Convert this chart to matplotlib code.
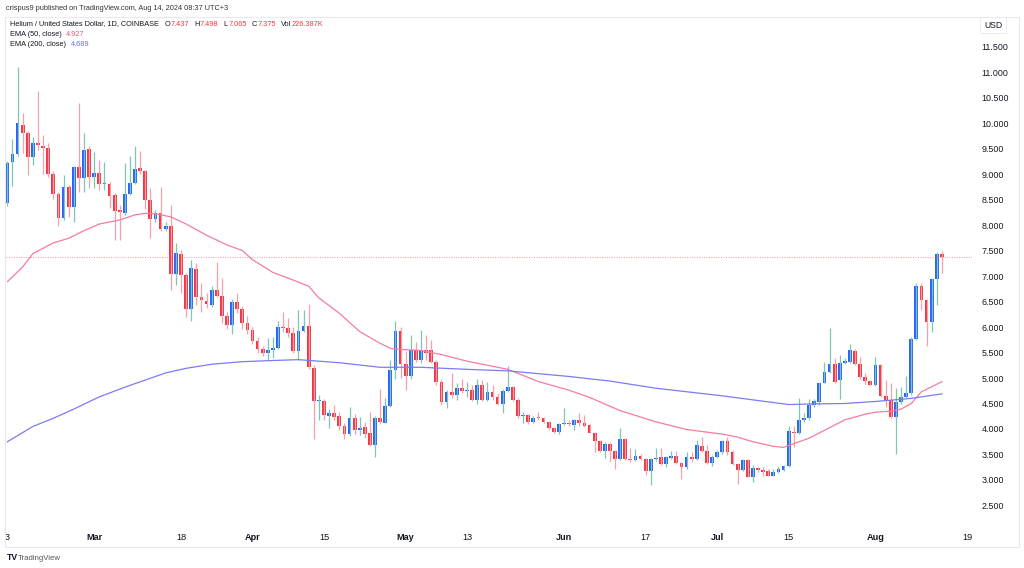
import matplotlib
matplotlib.use('Agg')
import matplotlib.pyplot as plt
from matplotlib.patches import Rectangle
import numpy as np
import pandas as pd

plt.rcParams['font.family'] = ['Liberation Sans', 'DejaVu Sans']

# daily HNT/USD candles, 13 Feb - 14 Aug 2024
start_date = '2024-02-13'
opens = [8.44, 9.24, 9.39, 9.96, 9.80, 9.34, 9.61, 9.55, 9.52, 9.01,
         8.61, 8.14, 8.75, 8.36, 9.13, 8.92, 9.50, 8.95, 9.03, 8.80,
         8.80, 8.58, 8.29, 8.24, 8.61, 8.82, 9.11, 9.05, 8.50, 8.11,
         8.24, 7.93, 7.98, 7.04, 7.43, 7.02, 6.35, 7.13, 6.59, 6.52,
         6.43, 6.73, 6.61, 6.22, 6.04, 6.50, 6.35, 6.07, 5.94, 5.73,
         5.57, 5.50, 5.55, 5.58, 6.01, 5.99, 5.89, 5.53, 5.93, 6.02,
         5.19, 4.55, 4.55, 4.26, 4.31, 4.25, 4.05, 3.90, 4.21, 3.98,
         4.03, 3.92, 3.69, 4.21, 4.12, 4.45, 5.16, 5.93, 5.27, 5.03,
         5.55, 5.35, 5.55, 5.54, 5.32, 4.93, 4.52, 4.73, 4.67, 4.80,
         4.74, 4.76, 4.57, 4.86, 4.57, 4.73, 4.62, 4.49, 4.75, 4.83,
         4.57, 4.26, 4.27, 4.14, 4.22, 4.22, 4.14, 4.01, 3.94, 4.10,
         4.11, 4.07, 4.18, 4.11, 4.08, 3.93, 3.77, 3.57, 3.70, 3.57,
         3.42, 3.80, 3.42, 3.39, 3.48, 3.41, 3.18, 3.41, 3.45, 3.31,
         3.44, 3.47, 3.33, 3.25, 3.46, 3.41, 3.67, 3.57, 3.34, 3.46,
         3.54, 3.77, 3.54, 3.31, 3.20, 3.39, 3.06, 3.23, 3.19, 3.18,
         3.08, 3.16, 3.20, 3.27, 3.95, 3.92, 4.18, 4.21, 4.47, 4.52,
         4.91, 5.12, 5.27, 4.96, 5.30, 5.32, 5.52, 5.27, 5.01, 4.95,
         4.86, 5.25, 4.65, 4.57, 4.24, 4.52, 4.62, 4.70, 5.77, 6.81,
         6.53, 6.10, 6.95, 7.437]
highs = [9.25, 9.68, 11.10, 10.20, 9.85, 9.73, 10.63, 9.76, 9.60, 9.05,
         8.65, 8.98, 8.78, 9.15, 10.40, 9.80, 9.55, 9.44, 9.27, 9.24,
         8.85, 8.62, 8.40, 9.21, 9.36, 9.55, 9.46, 9.08, 8.72, 8.30,
         8.75, 8.05, 8.39, 7.64, 7.51, 7.05, 7.31, 7.25, 6.86, 6.66,
         6.81, 7.27, 6.97, 6.30, 6.55, 6.67, 6.41, 6.22, 6.00, 5.80,
         5.62, 5.78, 5.80, 6.11, 6.30, 6.17, 6.00, 6.33, 6.33, 6.46,
         5.25, 4.67, 4.58, 4.39, 4.47, 4.34, 4.11, 4.44, 4.29, 4.24,
         4.14, 4.34, 4.25, 4.78, 4.60, 5.35, 6.12, 6.00, 5.52, 5.85,
         5.71, 5.95, 5.85, 5.75, 5.35, 4.99, 4.76, 5.09, 4.90, 4.99,
         4.93, 4.86, 4.99, 4.96, 4.93, 4.86, 4.70, 4.78, 5.24, 4.84,
         4.60, 4.34, 4.30, 4.25, 4.33, 4.24, 4.16, 4.04, 4.12, 4.41,
         4.18, 4.20, 4.31, 4.27, 4.10, 3.95, 3.78, 3.75, 3.75, 3.59,
         4.01, 3.82, 3.62, 3.60, 3.50, 3.43, 3.43, 3.62, 3.62, 3.47,
         3.57, 3.57, 3.35, 3.55, 3.54, 3.78, 3.85, 3.68, 3.49, 3.59,
         3.78, 3.85, 3.59, 3.33, 3.41, 3.41, 3.29, 3.25, 3.25, 3.21,
         3.21, 3.25, 3.29, 4.05, 4.05, 4.60, 4.31, 4.58, 4.58, 4.93,
         5.32, 5.99, 5.39, 5.45, 5.39, 5.67, 5.56, 5.42, 5.09, 4.97,
         5.42, 5.27, 4.96, 4.90, 4.80, 4.83, 5.03, 5.81, 6.87, 6.87,
         6.55, 6.97, 7.48, 7.498]
lows = [8.37, 8.76, 9.35, 9.41, 8.98, 9.18, 9.47, 9.01, 8.95, 8.52,
        7.99, 8.10, 8.16, 8.06, 8.65, 8.65, 8.72, 8.72, 8.69, 8.69,
        8.33, 7.70, 7.70, 8.20, 8.58, 8.80, 9.00, 8.31, 7.74, 8.05,
        7.88, 7.88, 6.73, 6.82, 6.67, 6.19, 6.11, 6.43, 6.30, 6.37,
        6.40, 6.58, 6.08, 5.97, 5.86, 6.27, 5.97, 5.86, 5.66, 5.50,
        5.44, 5.35, 5.40, 5.56, 5.91, 5.80, 5.50, 5.35, 5.90, 5.18,
        3.80, 4.18, 4.18, 4.01, 4.18, 3.98, 3.80, 3.86, 3.91, 3.88,
        3.82, 3.67, 3.45, 4.10, 4.11, 4.44, 4.99, 5.00, 4.76, 4.99,
        5.32, 5.30, 5.35, 5.30, 4.86, 4.48, 4.41, 4.60, 4.57, 4.70,
        4.63, 4.55, 4.49, 4.54, 4.55, 4.57, 4.47, 4.31, 4.72, 4.55,
        4.22, 4.12, 4.10, 4.11, 4.17, 4.12, 3.99, 3.93, 3.91, 4.08,
        4.06, 3.99, 4.06, 4.03, 3.92, 3.54, 3.54, 3.44, 3.36, 3.21,
        3.40, 3.39, 3.36, 3.38, 3.39, 3.10, 2.90, 3.38, 3.29, 3.25,
        3.41, 3.31, 3.02, 3.21, 3.36, 3.39, 3.55, 3.31, 3.27, 3.43,
        3.51, 3.49, 3.29, 2.93, 3.18, 3.05, 2.97, 3.16, 3.07, 3.07,
        3.07, 3.14, 3.18, 3.25, 3.65, 3.90, 4.14, 4.18, 4.44, 4.47,
        4.90, 5.10, 4.90, 4.58, 5.27, 5.29, 5.25, 4.99, 4.88, 4.84,
        4.84, 4.63, 4.44, 4.22, 3.51, 4.49, 4.61, 4.66, 5.74, 6.33,
        5.63, 5.91, 6.43, 7.065]
closes = [9.22, 9.39, 10.01, 9.80, 9.34, 9.61, 9.57, 9.52, 9.01, 8.61,
          8.14, 8.75, 8.36, 9.13, 8.92, 9.48, 8.95, 9.03, 8.80, 8.81,
          8.56, 8.28, 8.25, 8.61, 8.82, 9.09, 9.06, 8.50, 8.11, 8.24,
          7.93, 7.98, 7.04, 7.45, 7.02, 6.35, 7.15, 6.59, 6.53, 6.45,
          6.73, 6.61, 6.22, 6.04, 6.50, 6.35, 6.07, 5.94, 5.73, 5.57,
          5.50, 5.55, 5.58, 6.01, 5.99, 5.89, 5.53, 5.93, 6.02, 5.21,
          4.55, 4.56, 4.27, 4.32, 4.24, 4.05, 3.90, 4.21, 3.98, 4.02,
          3.90, 3.69, 4.21, 4.13, 4.45, 5.16, 5.93, 5.27, 5.03, 5.55,
          5.35, 5.55, 5.49, 5.32, 4.93, 4.52, 4.73, 4.66, 4.80, 4.74,
          4.75, 4.57, 4.86, 4.57, 4.73, 4.62, 4.49, 4.75, 4.83, 4.57,
          4.25, 4.27, 4.14, 4.22, 4.21, 4.14, 4.01, 3.94, 4.10, 4.11,
          4.09, 4.18, 4.11, 4.06, 3.93, 3.77, 3.57, 3.70, 3.57, 3.42,
          3.80, 3.42, 3.39, 3.48, 3.42, 3.18, 3.41, 3.44, 3.31, 3.45,
          3.47, 3.33, 3.25, 3.46, 3.42, 3.68, 3.57, 3.34, 3.46, 3.54,
          3.77, 3.54, 3.31, 3.20, 3.39, 3.06, 3.23, 3.19, 3.15, 3.08,
          3.16, 3.22, 3.28, 3.96, 3.92, 4.18, 4.21, 4.47, 4.54, 4.91,
          5.12, 5.27, 4.93, 5.30, 5.34, 5.54, 5.27, 5.01, 4.95, 4.86,
          5.25, 4.65, 4.57, 4.24, 4.52, 4.62, 4.70, 5.77, 6.81, 6.53,
          6.10, 6.95, 7.43, 7.375]

# EMA values (day offset from start, value)
ema50_day = [0, 3, 5, 9, 12, 15, 18, 22, 25, 27, 29, 32, 35, 39, 43, 46, 48,
             52, 56, 59, 61, 65, 69, 73, 75, 77, 81, 85, 90, 98, 104, 110,
             114, 120, 127, 133, 140, 143, 146, 150, 152, 157, 164, 168,
             170, 173, 175, 177, 179, 183]
ema50_val = [6.89, 7.18, 7.44, 7.65, 7.74, 7.89, 8.02, 8.10, 8.20, 8.23, 8.22,
             8.16, 8.02, 7.80, 7.61, 7.50, 7.32, 7.07, 6.92, 6.80, 6.57, 6.27,
             5.91, 5.68, 5.58, 5.56, 5.54, 5.46, 5.33, 5.17, 4.93, 4.76, 4.62,
             4.36, 4.14, 3.99, 3.90, 3.84, 3.75, 3.66, 3.64, 3.82, 4.18, 4.29,
             4.33, 4.35, 4.39, 4.50, 4.73, 4.927]
ema200_day = [0, 5, 9, 13, 18, 23, 27, 31, 35, 40, 46, 51, 57, 65, 73, 81,
              90, 98, 110, 118, 127, 140, 153, 157, 164, 170, 177, 183]
ema200_val = [3.75, 4.05, 4.21, 4.39, 4.63, 4.82, 4.96, 5.10, 5.19, 5.27, 5.32,
              5.34, 5.36, 5.30, 5.21, 5.21, 5.17, 5.14, 5.03, 4.94, 4.80, 4.65,
              4.48, 4.49, 4.50, 4.54, 4.60, 4.689]

tick_dates = ['2024-02-13', '2024-03-01', '2024-03-18', '2024-04-01',
              '2024-04-15', '2024-05-01', '2024-05-13', '2024-06-01',
              '2024-06-17', '2024-07-01', '2024-07-15', '2024-08-01',
              '2024-08-19']
tick_labels = ['3', 'Mar', '18', 'Apr', '15', 'May', '13', 'Jun', '17',
               'Jul', '15', 'Aug', '19']
price_ticks = [2.5, 3.0, 3.5, 4.0, 4.5, 5.0, 5.5, 6.0, 6.5, 7.0, 7.5, 8.0,
               8.5, 9.0, 9.5, 10.0, 10.5, 11.0, 11.5]
legend_ohlc = [('O', '7.437'), ('H', '7.498'), ('L', '7.065'),
               ('C', '7.375'), ('Vol', '226.387K')]

UP, DOWN = '#2962ff', '#f23645'
UP_WICK, DOWN_WICK = '#7cc7b6', '#f7a0a9'
TXT = '#131722'
FS = 5.3

o = np.array(opens)
h = np.array(highs)
l = np.array(lows)
c = np.array(closes)
x = np.arange(len(c))
up = c >= o

W, H = 1024, 568
fig = plt.figure(figsize=(W / 100, H / 100), dpi=100)
fig.patch.set_facecolor('white')


def fx(px):
    return px / W


def fy(py):
    return 1 - py / H


ax = fig.add_axes([fx(5.5), fy(522), fx(972) - fx(5.5), fy(17) - fy(522)])
ax.set_facecolor('white')

ax.vlines(x, l, h, colors=np.where(up, UP_WICK, DOWN_WICK), linewidth=0.9)
body_lo = np.minimum(o, c)
body_h = np.maximum(np.abs(c - o), 0.02)
ax.bar(x, body_h, bottom=body_lo, width=0.74,
       color=np.where(up, UP, DOWN), linewidth=0)

ax.plot(ema50_day, ema50_val, color='#f77c9c', lw=0.9)
ax.plot(ema200_day, ema200_val, color='#7b7bf4', lw=0.9)
ax.axhline(closes[-1], color=DOWN, lw=0.7, ls=(0, (1, 1.5)), alpha=0.55)

ax.set_xlim(-0.37, 188.9)
ax.set_ylim(2.176, 12.08)

start = pd.Timestamp(start_date)
tick_pos = [(pd.Timestamp(d) - start).days for d in tick_dates]
ax.set_xticks(tick_pos)
ax.set_xticklabels(tick_labels)
for t in ax.get_xticklabels():
    if t.get_text().isalpha():
        t.set_fontweight('bold')
ax.tick_params(axis='x', length=0, pad=8, labelsize=6.6, labelcolor=TXT)

ax.yaxis.tick_right()
ax.set_yticks(price_ticks)
ax.set_yticklabels([f'{v:.3f}' for v in price_ticks])
ax.tick_params(axis='y', length=0, pad=7, labelsize=6.4, labelcolor=TXT)

for s in ax.spines.values():
    s.set_visible(False)

# outer frame of the chart card
fig.patches.append(Rectangle((fx(5), fy(547)), fx(1019) - fx(5), fy(17) - fy(547),
                             transform=fig.transFigure, fill=False,
                             edgecolor='#e6e9ef', lw=0.8))

fig.text(fx(6), fy(8), 'crispus9 published on TradingView.com, Aug 14, 2024 08:37 UTC+3',
         fontsize=FS, color='#333333', va='center')

# legend, laid out piece by piece so nothing collides
renderer = fig.canvas.get_renderer()


def put(px, py, s, color):
    t = fig.text(fx(px), fy(py), s, fontsize=FS, color=color, va='center')
    return t.get_window_extent(renderer).x1


end = put(10.5, 24, 'Helium / United States Dollar, 1D, COINBASE', TXT)
px = end + 5
for lab, val in legend_ohlc:
    px = put(px, 24, lab, TXT) + 0.5
    px = put(px, 24, val, DOWN) + 5

end = put(10.5, 34, 'EMA (50, close)', TXT)
put(end + 4, 34, '4.927', '#f7527a')
end = put(10.5, 44, 'EMA (200, close)', TXT)
put(end + 4, 44, '4.689', '#6e6ef5')

fig.text(fx(993), fy(25), 'USD', fontsize=6.2, color=TXT, va='center', ha='center',
         bbox=dict(boxstyle='square,pad=0.4', fc='white', ec='#e6e9ef', lw=0.6))

fig.text(fx(7), fy(558), 'TV', fontsize=6.2, fontweight='heavy', color=TXT,
         va='center')
fig.text(fx(18), fy(558), 'TradingView', fontsize=5.6, color='#555555', va='center')

fig.savefig('out.png', dpi=100)
